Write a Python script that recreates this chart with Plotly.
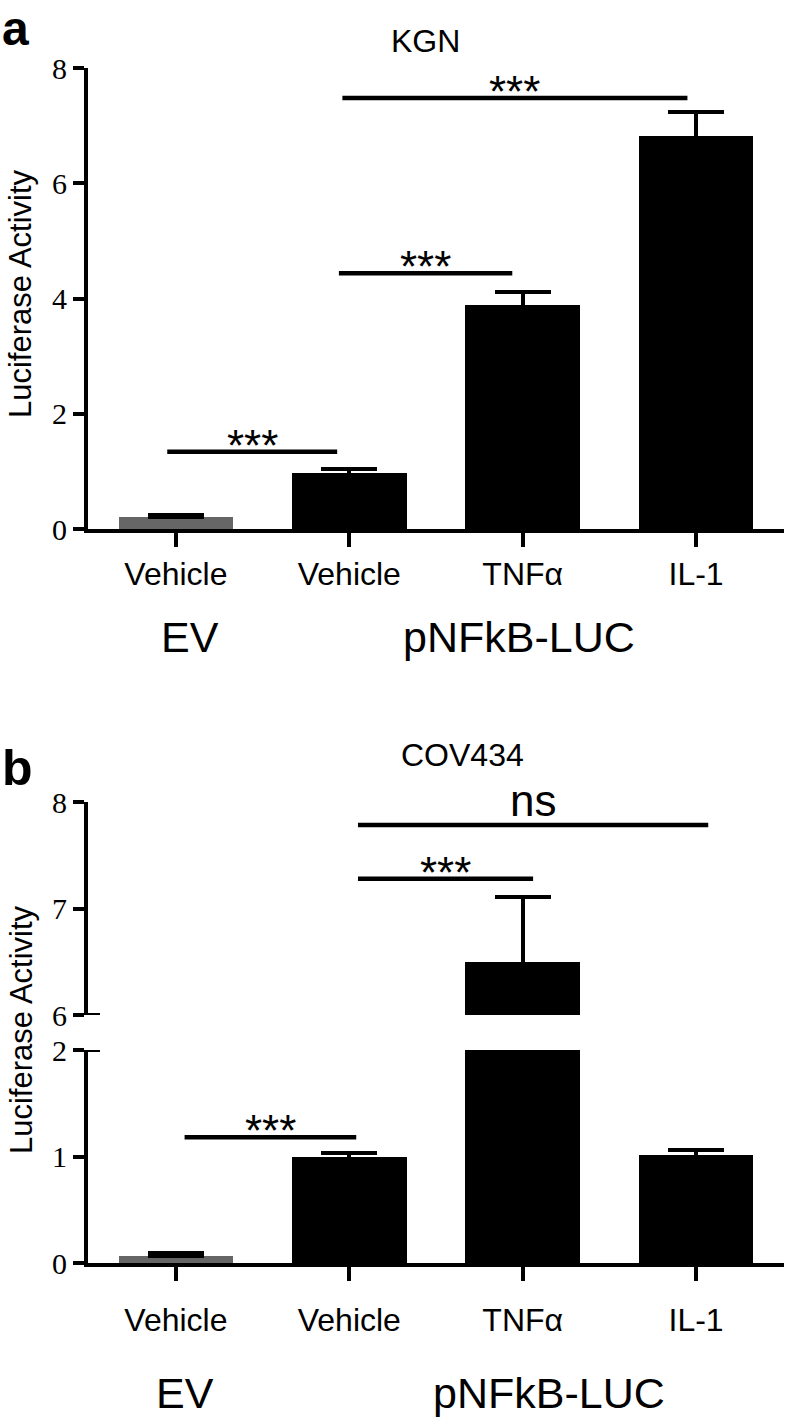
import plotly.graph_objects as go

# ~~~data~~~
categories = ["Vehicle", "Vehicle", "TNFα", "IL-1"]
bar_colors = ["#666666", "#000000", "#000000", "#000000"]
group_names = ["EV", "pNFkB-LUC"]

kgn_mean = [0.21, 0.98, 3.88, 6.82]
kgn_err = [0.03, 0.06, 0.23, 0.42]

cov_mean = [0.07, 1.00, 6.50, 1.01]
cov_err = [0.025, 0.03, 0.61, 0.05]

# significance bars: start, end, height, label
kgn_sig_start = [-0.05, 0.94, 0.96]
kgn_sig_end = [0.93, 1.94, 2.95]
kgn_sig_y = [1.34, 4.44, 7.48]
kgn_sig_text = ["***", "***", "***"]

cov_sig_start = [0.05, 1.05, 1.05]
cov_sig_end = [1.04, 2.06, 3.07]
cov_sig_y = [1.18, 7.28, 7.785]
cov_sig_text = ["***", "***", "ns"]
cov_sig_axis = ["y3", "y4", "y4"]

W, H = 786, 1420
SANS = "Liberation Sans, Arial, sans-serif"
SERIF = "Liberation Serif, Times New Roman, serif"


def px(p):
    return p / W


def py(p):
    return 1 - p / H


fig = go.Figure()
xs = list(range(len(categories)))


def add_bars(mean, err, xa, ya):
    # lower end of the error bar tucked inside the black bars so only the upper half shows
    lower = [0 if c != "#000000" else 0.1 for c in bar_colors]
    fig.add_trace(go.Bar(
        x=xs, y=mean, width=0.66,
        marker=dict(color=bar_colors, line=dict(width=0)),
        error_y=dict(type="data", symmetric=False, array=err, arrayminus=lower,
                     color="black", thickness=4, width=28),
        xaxis=xa, yaxis=ya, showlegend=False))


def add_sig(x0, x1, y, text, xa, ya, xref, yref):
    fig.add_trace(go.Scatter(x=[x0, x1], y=[y, y], mode="lines",
                             line=dict(color="black", width=4.5),
                             xaxis=xa, yaxis=ya, showlegend=False, cliponaxis=False))
    shift = -2 if text == "ns" else -20
    fig.add_annotation(x=(x0 + x1) / 2, y=y, xref=xref, yref=yref, text=text,
                       showarrow=False, yanchor="bottom", yshift=shift,
                       font=dict(family=SANS, size=44, color="black"))


# panel a: KGN
add_bars(kgn_mean, kgn_err, "x", "y")
for x0, x1, y, t in zip(kgn_sig_start, kgn_sig_end, kgn_sig_y, kgn_sig_text):
    add_sig(x0, x1, y, t, "x", "y", "x", "y")

# panel b: COV434 (broken axis -> draw in both segments)
add_bars(cov_mean, cov_err, "x2", "y3")
add_bars(cov_mean, cov_err, "x2", "y4")
for x0, x1, y, t, ya in zip(cov_sig_start, cov_sig_end, cov_sig_y, cov_sig_text, cov_sig_axis):
    add_sig(x0, x1, y, t, "x2", ya, "x2", ya)

xcommon = dict(range=[-0.507, 3.507], showline=True, linewidth=4, linecolor="black",
               ticks="outside", ticklen=14, tickwidth=4, tickcolor="black",
               tickvals=xs, ticktext=categories, showgrid=False, zeroline=False,
               automargin=False, tickfont=dict(family=SANS, size=32, color="black"))
ycommon = dict(showline=True, linewidth=4, linecolor="black", ticks="outside",
               ticklen=11, tickwidth=4, tickcolor="black", showgrid=False, zeroline=False,
               automargin=False, tickfont=dict(family=SERIF, size=30, color="black"))

fig.update_layout(
    width=W, height=H, margin=dict(l=0, r=0, t=0, b=0, autoexpand=False),
    paper_bgcolor="white", plot_bgcolor="white", bargap=0,
    xaxis=dict(xcommon, domain=[px(88), px(784)], anchor="y", ticklabelstandoff=0),
    yaxis=dict(ycommon, domain=[py(529), py(68)], range=[0, 8], tickvals=[0, 2, 4, 6, 8], anchor="x"),
    xaxis2=dict(xcommon, domain=[px(88), px(784)], anchor="y3", ticklabelstandoff=12),
    yaxis3=dict(ycommon, domain=[py(1263), py(1050)], range=[0, 2], tickvals=[0, 1, 2], anchor="x2"),
    yaxis4=dict(ycommon, domain=[py(1015), py(802)], range=[6, 8], tickvals=[6, 7, 8], anchor="x2"),
)

# axis break marks
fig.add_shape(type="line", xref="x2 domain", yref="y4", x0=0, x1=12 / 696, y0=6, y1=6,
              line=dict(color="black", width=4))
fig.add_shape(type="line", xref="x2 domain", yref="y3", x0=0, x1=12 / 696, y0=2, y1=2,
              line=dict(color="black", width=4))

# titles, panel letters, axis titles, group labels
texts = [
    ("a", 0, 29, 48, True, "left"),
    ("b", 0, 768, 50, True, "left"),
    ("KGN", 425, 41, 32, False, "center"),
    ("COV434", 463, 755, 32, False, "center"),
]
for t, x, y, s, bold, anc in texts:
    fig.add_annotation(x=px(x), y=py(y), xref="paper", yref="paper", showarrow=False,
                       text="<b>%s</b>" % t if bold else t, xanchor=anc, yanchor="middle",
                       font=dict(family=SANS, size=s, color="black"))

for yc in [294, 1030]:
    fig.add_annotation(x=px(21), y=py(yc), xref="paper", yref="paper", showarrow=False,
                       text="Luciferase Activity", textangle=-90, xanchor="center", yanchor="middle",
                       font=dict(family=SANS, size=31, color="black"))

group_x_a = [0.08, 1.98]
group_x_b = [0.05, 2.15]
for name, gx in zip(group_names, group_x_a):
    fig.add_annotation(x=gx, y=py(637), xref="x", yref="paper", showarrow=False, text=name,
                       yanchor="middle", font=dict(family=SANS, size=43, color="black"))
for name, gx in zip(group_names, group_x_b):
    fig.add_annotation(x=gx, y=py(1393), xref="x2", yref="paper", showarrow=False, text=name,
                       yanchor="middle", font=dict(family=SANS, size=43, color="black"))

# drop the default page margin so the figure sits at the window's corner
fig.write_html("out.html", config={"displayModeBar": False},
               post_script="document.body.style.margin='0';document.body.style.overflow='hidden';")
